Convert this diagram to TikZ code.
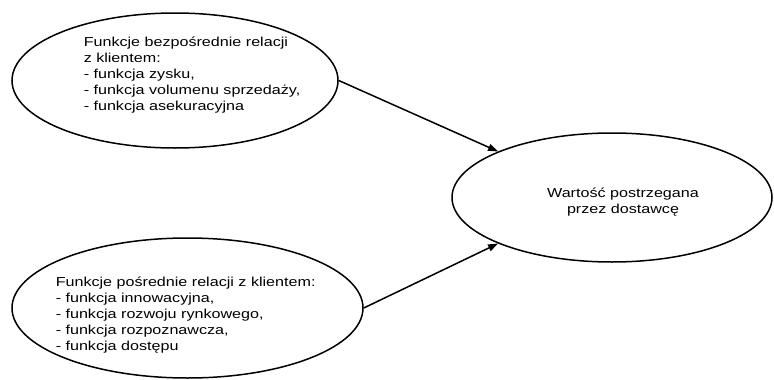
\documentclass[tikz,border=0pt]{standalone}
\usepackage{fontspec}
\setmainfont[FakeStretch=1.24]{Liberation Sans}
\usetikzlibrary{shapes.geometric,arrows.meta}
\begin{document}
\begin{tikzpicture}[x=1pt,y=-1pt,line width=1.5pt,
  txt/.style={inner sep=0pt,font=\fontsize{13}{16}\selectfont}]
\useasboundingbox (0,0) rectangle (774,380);
\node[draw, ellipse, minimum width=326, minimum height=135] (1) at (175,80.5) {};
\node[draw, ellipse, minimum width=351, minimum height=140] (2) at (187.5,308) {};
\node[draw, ellipse, minimum width=320, minimum height=129] (3) at (612,197.5) {};
\node[txt, align=left, anchor=base west] (t1) at (83,110.7) {Funkcje bezpośrednie relacji\\z klientem:\\- funkcja zysku,\\- funkcja volumenu sprzedaży,\\- funkcja asekuracyjna};
\node[txt, align=left, anchor=base west] (t2) at (55,350) {Funkcje pośrednie relacji z klientem:\\- funkcja innowacyjna,\\- funkcja rozwoju rynkowego,\\- funkcja rozpoznawcza,\\- funkcja dostępu};
\node[txt, align=center, anchor=base] (t3) at (623,213) {Wartość postrzegana\\przez dostawcę};
\path[draw,-{Triangle[length=10pt,width=7pt]}] (1.east) -- (3.158);
\path[draw,-{Triangle[length=10pt,width=7pt]}] (2.east) -- (3.202);
\end{tikzpicture}
\end{document}
